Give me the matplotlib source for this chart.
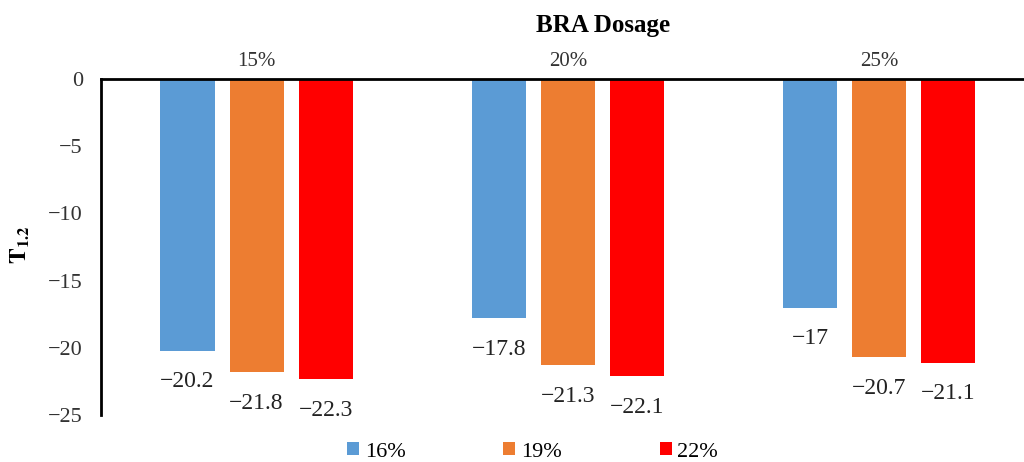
import matplotlib
matplotlib.use("Agg")
import matplotlib.pyplot as plt
import numpy as np

dosages = ["15%", "20%", "25%"]
series_names = ["16%", "19%", "22%"]
values_16 = [-20.2, -17.8, -17]
values_19 = [-21.8, -21.3, -20.7]
values_22 = [-22.3, -22.1, -21.1]
yticks = [0, -5, -10, -15, -20, -25]

colors = ["#5B9BD5", "#ED7D31", "#FF0000"]

plt.rcParams["font.family"] = ["Liberation Serif", "DejaVu Serif"]
plt.rcParams["mathtext.fontset"] = "stix"

fig = plt.figure(figsize=(10.24, 4.62), dpi=100)
ax = fig.add_axes([0.0986, 0.1017, 0.912, 0.727])

x = np.arange(len(dosages))
width = 0.174
offset = 0.222

all_series = [values_16, values_19, values_22]
for i, (vals, name, color) in enumerate(zip(all_series, series_names, colors)):
    pos = x + (i - 1) * offset
    ax.bar(pos, vals, width=width, color=color, label=name)
    # value labels under each bar end
    for px, v in zip(pos, vals):
        txt = f"{v:g}".replace("-", "\u2212")
        ax.annotate(txt, (px, v), xytext=(0, -15), textcoords="offset points",
                    ha="center", va="top", fontsize=17, color="#222222")

ax.set_xlim(-0.5, 2.5)
ax.set_ylim(-25, 0)
ax.set_yticks(yticks)
ax.set_yticklabels([f"{t}".replace("-", "\u2212") for t in yticks], fontsize=16, color="#333333")
ax.tick_params(axis="y", length=0, pad=13)

ax.xaxis.tick_top()
ax.set_xticks(x)
ax.set_xticklabels(dosages, fontsize=15, color="#333333")
ax.tick_params(axis="x", length=0, pad=6)

for side in ["right", "bottom"]:
    ax.spines[side].set_visible(False)
ax.spines["top"].set_linewidth(2)
ax.spines["left"].set_linewidth(2)

fig.text(0.589, 0.945, "BRA Dosage", ha="center", va="center",
         fontsize=18, fontweight="bold")
fig.text(0.02, 0.47, r"$\mathbf{T_{1.2}}$", rotation=90, ha="center",
         va="center", fontsize=17)

fig.legend(loc="center", bbox_to_anchor=(0.52, 0.022), ncol=3, frameon=False,
           fontsize=16, handlelength=0.55, handleheight=0.55, handletextpad=0.25,
           columnspacing=4.4)

fig.savefig("out.png", dpi=100)
